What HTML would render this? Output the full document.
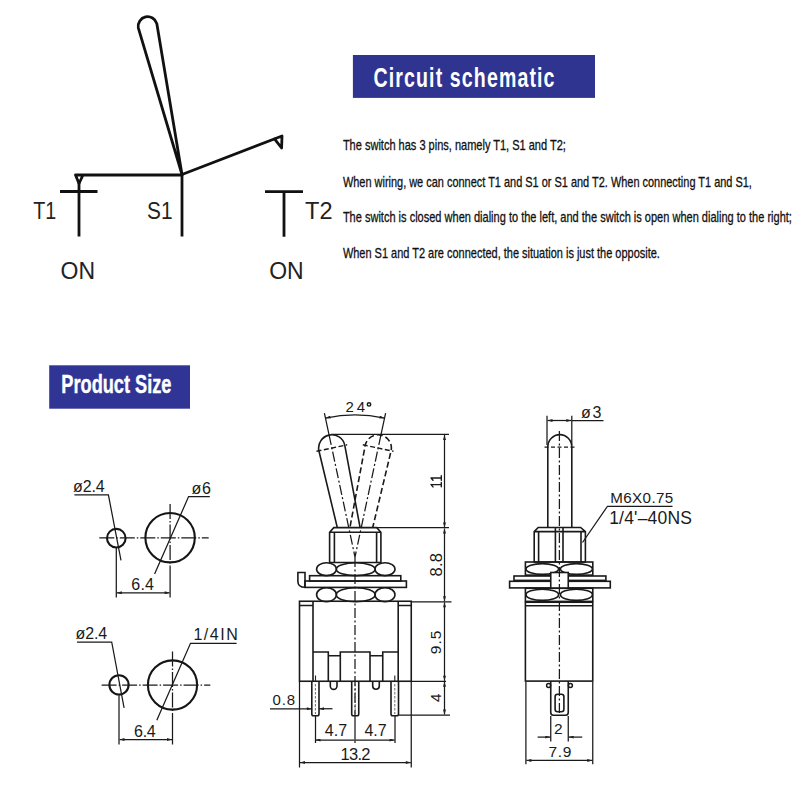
<!DOCTYPE html>
<html><head><meta charset="utf-8"><style>
html,body{margin:0;padding:0;background:#fff;width:800px;height:800px;overflow:hidden}
svg{display:block}
.t{font-family:"Liberation Sans",sans-serif}
.m{font-family:"Liberation Sans",sans-serif}
</style></head><body>
<svg width="800" height="800" viewBox="0 0 800 800">
<rect width="800" height="800" fill="#fff"/>
<!-- ===== Schematic ===== -->
<g fill="none" stroke="#111" stroke-width="2.8" stroke-linejoin="round" stroke-linecap="round" id="sch">
  <!-- lever -->
  <path d="M182,174.5 L138.3,27.8 A9.5,9.5 0 0 1 156.8,23.6 Z"/>
  <!-- right arm -->
  <path d="M182,174.5 L282,136 L281.6,148 L274.5,138.8"/>
  <!-- horizontal to T1 -->
  <path d="M182,175 L75.5,175 L79,183.5 L83,175"/>
  <path d="M182,175 L182,236.5" stroke-linecap="butt"/>
  <path d="M60,191.5 L97.5,191.5 M79,182 L79,236.5" stroke-linecap="butt"/>
  <path d="M265,191.6 L303,191.6 M284,191.6 L284,236.7" stroke-linecap="butt"/>
</g>
<g class="t" font-size="23.6" fill="#222">
  <text x="33.2" y="218.5" textLength="23" lengthAdjust="spacingAndGlyphs">T1</text>
  <text x="147" y="218.5" textLength="25.5" lengthAdjust="spacingAndGlyphs">S1</text>
  <text x="305" y="218.5" textLength="27.5" lengthAdjust="spacingAndGlyphs">T2</text>
  <text x="60.6" y="279" textLength="34.5" lengthAdjust="spacingAndGlyphs">ON</text>
  <text x="269.2" y="279" textLength="34.5" lengthAdjust="spacingAndGlyphs">ON</text>
</g>
<!-- banner 1 -->
<rect x="352.9" y="55" width="242.1" height="42.9" fill="#2f3490"/>
<text class="t" transform="translate(373.5,86.8) scale(0.72,1)" font-size="27.2" font-weight="bold" fill="#fff" textLength="251.4" lengthAdjust="spacing">Circuit schematic</text>
<g class="t" font-size="14.3" fill="#111" stroke="#111" stroke-width="0.3">
  <text x="342.9" y="150.2" textLength="223" lengthAdjust="spacingAndGlyphs">The switch has 3 pins, namely T1, S1 and T2;</text>
  <text x="342.9" y="186.6" textLength="409" lengthAdjust="spacingAndGlyphs">When wiring, we can connect T1 and S1 or S1 and T2. When connecting T1 and S1,</text>
  <text x="342.9" y="221.8" textLength="449" lengthAdjust="spacingAndGlyphs">The switch is closed when dialing to the left, and the switch is open when dialing to the right;</text>
  <text x="342.9" y="258.4" textLength="317" lengthAdjust="spacingAndGlyphs">When S1 and T2 are connected, the situation is just the opposite.</text>
</g>
<!-- banner 2 -->
<rect x="49.2" y="365.3" width="140.8" height="43.4" fill="#303595"/>
<text class="t" x="61.3" y="392.7" font-size="26.6" font-weight="bold" fill="#fff" stroke="#fff" stroke-width="0.4" textLength="110.2" lengthAdjust="spacingAndGlyphs">Product Size</text>
<defs>
  <marker id="ar" viewBox="0 0 10 6" refX="10" refY="3" markerWidth="6.5" markerHeight="3" orient="auto-start-reverse" markerUnits="userSpaceOnUse">
    <path d="M0,0 L10,3 L0,6 Z" fill="#222"/>
  </marker>
</defs>
<!-- ===== Hole drawings ===== -->
<g fill="none" stroke="#151515" stroke-width="2.1">
  <circle cx="116.3" cy="538.2" r="9.3"/>
  <circle cx="170.1" cy="537.7" r="24.7"/>
  <circle cx="119" cy="684.9" r="9.6"/>
  <circle cx="172.5" cy="685" r="24.6"/>
</g>
<g fill="none" stroke="#1a1a1a" stroke-width="1.25">
  <!-- center lines -->
  <path d="M99.3,537.8 H208.7" stroke-dasharray="15 2 1.5 2"/>
  <path d="M170.1,504 V566" stroke-dasharray="15 2 1.5 2"/>
  <path d="M170.1,566 V597.5 M116.3,548 V597.5"/>
  <path d="M101.6,685 H210.3" stroke-dasharray="15 2 1.5 2"/>
  <path d="M172.5,651.6 V713" stroke-dasharray="15 2 1.5 2"/>
  <path d="M172.5,713 V744.5 M119,695 V744.5"/>
  <!-- dims -->
  <path d="M116.8,592.8 H169.6" marker-start="url(#ar)" marker-end="url(#ar)"/>
  <path d="M119.5,739.5 H172" marker-start="url(#ar)" marker-end="url(#ar)"/>
  <!-- leaders -->
  <path d="M74.4,494.9 H108.4 L121,560.3"/>
  <path d="M209.8,496.6 H188.6 L154.6,574"/>
  <path d="M77,642 H111.7 L124.1,707.9"/>
  <path d="M236.6,643.3 H190.5 L156.8,720.3"/>
</g>
<!-- ===== Front view ===== -->
<clipPath id="cl"><rect x="250" y="380" width="200" height="148"/></clipPath>
<g fill="none" stroke="#1a1a1a" stroke-width="1.6" clip-path="url(#cl)">
  <path d="M340.2,539.7 L318.9,450.8 A13.2,13.2 0 0 1 344.8,445.3 L361.5,535.2"/>
  <path d="M348.5,535.2 L365.2,445.3 A13.2,13.2 0 0 1 391.1,450.8 L369.8,539.7" stroke-dasharray="6 3"/>
  <path d="M316.5,451.3 L347.2,444.8 M362.8,444.8 L393.5,451.3" stroke-width="1.4" stroke-dasharray="5 2.5"/>
</g>
<g fill="none" stroke="#1a1a1a" stroke-width="1.25">
  <path d="M324.4,413.2 L329.1,435.1 M385.6,413.2 L380.9,435.1"/>
  <path d="M329.1,435.1 L355,557 M380.9,435.1 L355,557" stroke-dasharray="10 2.5 2 2.5"/>
  <path d="M325.5,418.1 A142,142 0 0 1 384.5,418.1" marker-start="url(#ar)" marker-end="url(#ar)"/>
  <!-- right dim -->
  <path d="M331,434.4 H449 M377,527.6 H449 M412,601.8 H451.5 M412,681.25 H446 M399,715 H450"/>
  <path d="M444.5,435 V527.5" marker-start="url(#ar)" marker-end="url(#ar)"/>
  <path d="M444.5,528.5 V601.3" marker-start="url(#ar)" marker-end="url(#ar)"/>
  <path d="M444.5,602.3 V680.8" marker-start="url(#ar)" marker-end="url(#ar)"/>
  <path d="M444.5,681.7 V714.5" marker-start="url(#ar)" marker-end="url(#ar)"/>
  <!-- bottom dims -->
  <path d="M315.5,716 V743 M355,716 V743 M395,716 V743"/>
  <path d="M299.5,682 V767.5 M411.25,682 V767.5"/>
  <path d="M315.5,740 H354.5 M355.5,740 H394.5" marker-start="url(#ar)" marker-end="url(#ar)"/>
  <path d="M300,762.5 H410.8" marker-start="url(#ar)" marker-end="url(#ar)"/>
  <path d="M270,708.75 H311.8" marker-end="url(#ar)"/>
  <path d="M332.5,708.75 H319" marker-end="url(#ar)"/>
  <!-- center line -->
  <path d="M355,557 V716" stroke-dasharray="10 2.5 2 2.5"/>
</g>
<g fill="none" stroke="#1a1a1a" stroke-width="1.6">
  <!-- bushing -->
  <path d="M329.6,532.2 L333.8,527.6 H376.7 L380.9,532.2 V562.5 H329.6 Z M329.6,532.2 H380.9 M334.4,532.2 V562.5 M376.6,532.2 V562.5"/>
  <!-- upper nut -->
  <ellipse cx="326.5" cy="569.2" rx="9.9" ry="6.4"/>
  <ellipse cx="355.7" cy="569.2" rx="19.4" ry="6.4"/>
  <ellipse cx="385" cy="569.2" rx="10" ry="6.4"/>
  <!-- plates -->
  <rect x="309.6" y="575.7" width="91.2" height="5.4"/>
  <rect x="304.9" y="581" width="101.5" height="6.4"/>
  <path d="M305,572.5 H297.9 V581.5 Q297.9,587.3 305,587.3 Z"/>
  <!-- lower nut -->
  <ellipse cx="326.5" cy="594.7" rx="9.9" ry="7"/>
  <ellipse cx="355.7" cy="594.7" rx="19.4" ry="7"/>
  <ellipse cx="385" cy="594.7" rx="10" ry="7"/>
  <!-- body -->
  <rect x="299.5" y="601.25" width="111.75" height="80"/>
  <path d="M313,601.25 V681.25 M398.2,601.25 V681.25 M299.5,605.5 H313 M398.2,605.5 H411.25"/>
  <path d="M313,652 H328.3 V655.75 H340.3 V652 H370 V655.75 H382.75 V652 H398.2 M328.3,652 V681.25 M340.3,652 V681.25 M370,652 V681.25 M382.75,652 V681.25"/>
  <!-- bumps -->
  <path d="M330.3,681.25 V686 A3.35,3.35 0 0 0 337,686 V681.25 M372.7,681.25 V686 A3.3,3.3 0 0 0 379.3,686 V681.25"/>
  <!-- pins -->
  <path d="M311.8,681.25 V714 Q311.8,715.75 313.5,715.75 H317.3 Q319,715.75 319,714 V681.25"/>
  <path d="M351.7,681.25 V714 Q351.7,715.75 353.4,715.75 H357 Q358.75,715.75 358.75,714 V681.25"/>
  <path d="M391,681.25 V714 Q391,715.75 392.7,715.75 H396.8 Q398.5,715.75 398.5,714 V681.25"/>
</g>
<g fill="none" stroke="#444" stroke-width="0.8" stroke-dasharray="2.5 1.5">
  <path d="M315.4,684 V714 M355.2,684 V714 M394.8,684 V714"/>
  <path d="M315.5,675.5 V681 M394.8,675.5 V681" stroke-dasharray="none" stroke-width="1.1" stroke="#222"/>
</g>
<!-- ===== Side view ===== -->
<g fill="none" stroke="#1a1a1a" stroke-width="1.6">
  <path d="M547.8,527.5 V447.2 A12,12.6 0 0 1 571.8,447.2 V527.5"/>
  <!-- bushing -->
  <path d="M534.2,531.6 L538.2,527.5 H580.6 L585.4,531.6 V562 H534.2 Z M534.2,531.6 H585.4 M538.6,531.6 V562 M581,531.6 V562 M555.4,527.5 V562 M563,527.5 V562"/>
  <!-- upper nut -->
  <rect x="525.4" y="562" width="67.4" height="13.1"/>
  <ellipse cx="542.3" cy="569" rx="16.3" ry="5.4"/>
  <ellipse cx="576.4" cy="569" rx="16" ry="5.4"/>
  <!-- plates -->
  <rect x="514" y="576" width="91.9" height="4.4"/>
  <rect x="509.6" y="581.3" width="100.7" height="6.6"/>
  <rect x="550.75" y="572.5" width="17.5" height="15.75" fill="#fff"/>
  <!-- lower nut -->
  <rect x="525.4" y="588.25" width="67.4" height="13.15"/>
  <ellipse cx="542.3" cy="594.8" rx="16.3" ry="5.6"/>
  <ellipse cx="576.4" cy="594.8" rx="16" ry="5.6"/>
  <!-- body -->
  <rect x="525.4" y="602.25" width="67.35" height="78.85"/>
  <path d="M525.4,605.75 H592.75"/>
  <!-- pin -->
  <path d="M550.75,681.1 V712.5 Q550.75,715.25 553.5,715.25 H565.5 Q568.25,715.25 568.25,712.5 V681.1"/>
  <circle cx="548.6" cy="685.4" r="2" stroke-width="1.5"/><circle cx="570.4" cy="685.4" r="2" stroke-width="1.5"/>
  <rect x="555.1" y="694.25" width="8.8" height="17.5" rx="2.5"/>
</g>
<g fill="none" stroke="#1a1a1a" stroke-width="1.25">
  <path d="M547,415.8 V445 M571.8,415.8 V445"/>
  <path d="M547.5,420.5 H571.3" marker-start="url(#ar)" marker-end="url(#ar)"/>
  <path d="M571.8,420.5 H603.5"/>
  <path d="M544.5,447.2 H574.5" stroke-dasharray="4 2.5"/>
  <path d="M559.4,431 V716" stroke-dasharray="10 2.5 2 2.5"/>
  <path d="M582.5,542.5 L607.5,506.25 H672.5"/>
  <!-- dims -->
  <path d="M550.75,716 V741.5 M568.25,716 V741.5"/>
  <path d="M537.6,737.1 H550.3" marker-end="url(#ar)"/>
  <path d="M582.25,737.1 H568.7" marker-end="url(#ar)"/>
  <path d="M525.9,682 V764.25 M592.75,682 V764.25"/>
  <path d="M526.4,760.4 H592.25" marker-start="url(#ar)" marker-end="url(#ar)"/>
</g>
<!--CAD-->
<g class="m" fill="#1a1a1a">
  <text x="73.0" y="492.25" font-size="16" textLength="31.75" lengthAdjust="spacing">ø2.4</text>
  <text x="191.5" y="493.5" font-size="16" textLength="19.5" lengthAdjust="spacing">ø6</text>
  <text x="131.25" y="589.75" font-size="16" textLength="22.75" lengthAdjust="spacing">6.4</text>
  <text x="75.5" y="638.9" font-size="16" textLength="31.75" lengthAdjust="spacing">ø2.4</text>
  <text x="193.4" y="640.4" font-size="16" textLength="44.4" lengthAdjust="spacing">1/4IN</text>
  <text x="134.0" y="737.0" font-size="16" textLength="21.75" lengthAdjust="spacing">6.4</text>
  <text x="345.4" y="411.8" font-size="15" textLength="19.6" lengthAdjust="spacing">24</text>
  <text x="272.5" y="705.0" font-size="15" textLength="22.5" lengthAdjust="spacing">0.8</text>
  <text x="324.8" y="736.2" font-size="16" textLength="22.4" lengthAdjust="spacing">4.7</text>
  <text x="364.6" y="736.2" font-size="16" textLength="22.0" lengthAdjust="spacing">4.7</text>
  <text x="340.5" y="759.75" font-size="16.5" textLength="30.0" lengthAdjust="spacing">13.2</text>
  <text x="581.0" y="417.5" font-size="16" textLength="20.4" lengthAdjust="spacing">ø3</text>
  <text x="610.25" y="502.5" font-size="15.2" textLength="63.0" lengthAdjust="spacing">M6X0.75</text>
  <text x="609.2" y="523.75" font-size="17.5" textLength="82.7" lengthAdjust="spacing">1/4&#39;–40NS</text>
  <text x="553.9" y="733.6" font-size="15.5">2</text>
  <text x="548.6" y="756.6" font-size="15.5" textLength="22.65" lengthAdjust="spacing">7.9</text>
  <text transform="translate(442.0,576.5) rotate(-90)" font-size="16.5" textLength="23.5" lengthAdjust="spacing">8.8</text>
  <text transform="translate(440.8,654.2) rotate(-90)" font-size="15.5" textLength="23.5" lengthAdjust="spacing">9.5</text>
  <text transform="translate(440.8,702.1) rotate(-90)" font-size="15">4</text>
</g>
<!--/CAD-->
<circle cx="369" cy="404.4" r="1.7" fill="none" stroke="#1a1a1a" stroke-width="1.5"/>
<g fill="none" stroke="#1a1a1a" stroke-width="1.4" stroke-linecap="round">
  <path d="M431,478 H441.3 M441.3,475.8 V480.2 M431,478 L433,480.3"/>
  <path d="M431,484.6 H441.3 M441.3,482.4 V486.8 M431,484.6 L433,486.9"/>
</g>
</svg>
</body></html>
